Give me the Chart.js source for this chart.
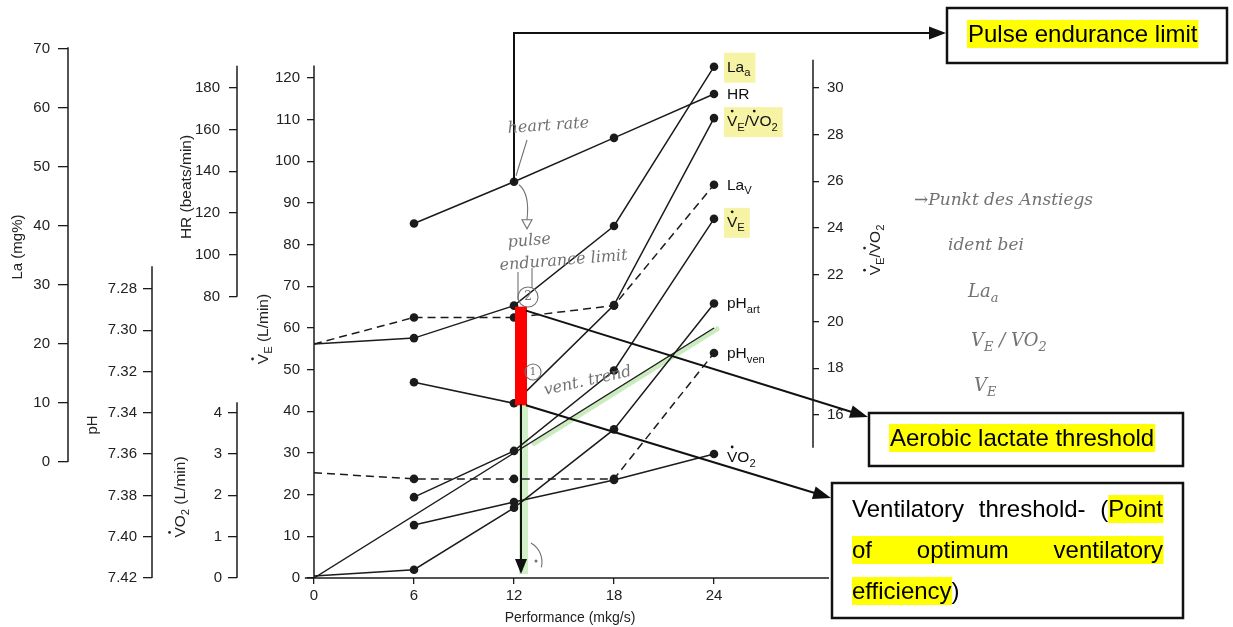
<!DOCTYPE html>
<html><head><meta charset="utf-8">
<script src="https://cdn.jsdelivr.net/npm/chart.js@4.4.1/dist/chart.umd.min.js"></script>
<style>html,body{margin:0;padding:0;background:#fff;}canvas{display:block;}</style>
</head><body>
<canvas id="c" width="1233" height="627"></canvas>
<script>
// ---------------- data ----------------
const X_VALUES = [0, 6, 12, 18, 24];            // performance (mkg/s)
const X_TICKS  = [0, 6, 12, 18, 24];
const HR      = [null, 115, 135, 156, 177];      // beats/min
const LA_A    = [20, 21, 26.5, 40, 67];          // mg%
const LA_V    = [20, 24.5, 24.5, 26.5, 47];      // mg%
const VE_VO2  = [null, 17.4, 16.5, 20.7, 28.7];
const VE      = [null, 19.4, 30.5, 49.8, 86.2];  // L/min
const PH_ART  = [7.419, 7.416, 7.386, 7.348, 7.287];
const PH_VEN  = [7.369, 7.372, 7.372, 7.372, 7.311];
const VO2     = [null, 1.28, 1.84, 2.37, 3.0];   // L/min
const TREND_X = [0, 24];                          // hand-drawn "vent. trend" line
const TREND_VE = [0, 60];
const LA_TICKS    = [0, 10, 20, 30, 40, 50, 60, 70];
const HR_TICKS    = [80, 100, 120, 140, 160, 180];
const PH_TICKS    = [7.28, 7.30, 7.32, 7.34, 7.36, 7.38, 7.40, 7.42];
const VO2_TICKS   = [0, 1, 2, 3, 4];
const VE_TICKS    = [0, 10, 20, 30, 40, 50, 60, 70, 80, 90, 100, 110, 120];
const VEVO2_TICKS = [16, 18, 20, 22, 24, 26, 28, 30];

// ---------------- layout / style ----------------
const W = 1233, H = 627;
const TOP = 28, BOTTOM = 578, LEFT = 314, RIGHT = 813;
const SPLIT = 360;   // boundary between the stacked HR (top) and VO2 (bottom) axes
const FONT = "'Liberation Sans', Arial, sans-serif";
const HAND = "'DejaVu Serif', serif";
const INK = '#1b1b1b';
const HANDC = '#727272';
Chart.defaults.font.family = FONT;

function cal(v1, p1, v2, p2, top, bottom) {
  const k = (v2 - v1) / (p2 - p1);
  return { lo: v1 + (bottom - p1) * k, hi: v1 + (top - p1) * k };
}

function mkY(o) {
  const area = o.area || [TOP, BOTTOM];
  const c = cal(...o.cal, area[0], area[1]);
  const rev = c.lo > c.hi;
  const s = {
    type: 'linear', position: o.pos, weight: o.weight,
    min: Math.min(c.lo, c.hi), max: Math.max(c.lo, c.hi), reverse: rev, bounds: 'data',
    afterFit: sc => { sc.width = o.width; },
    afterBuildTicks: sc => { sc.ticks = o.ticks.map(v => ({ value: v })); },
    grid: { display: true, drawOnChartArea: false, drawTicks: true, tickLength: o.tl, color: INK, lineWidth: 1.3 },
    border: { display: false },
    ticks: { autoSkip: false, padding: o.pad, color: '#222', font: { family: FONT, size: 15 }, callback: o.fmt || (v => String(v)) },
    title: { display: false }
  };
  if (o.stack) { s.stack = o.stack; s.stackWeight = o.stackWeight; }
  return s;
}

const pts = arr => X_VALUES.map((x, i) => ({ x, y: arr[i] }));
const lineDs = (label, arr, yAxisID, dashed) => ({
  label, data: pts(arr), yAxisID, xAxisID: 'x',
  borderColor: INK, backgroundColor: INK, pointBackgroundColor: INK, pointBorderWidth: 0,
  borderWidth: 1.5, borderDash: dashed ? [8, 5] : [], tension: 0, spanGaps: false,
  pointRadius: c => (c.raw && c.raw.x === 0 ? 0 : 4.3)
});

const datasets = [
  lineDs('HR', HR, 'yHR'),
  lineDs('La_a', LA_A, 'yLa'),
  lineDs('La_v', LA_V, 'yLa', true),
  lineDs('VE/VO2', VE_VO2, 'yVEVO2'),
  lineDs('VE', VE, 'yVE'),
  lineDs('pH_art', PH_ART, 'yPH'),
  lineDs('pH_ven', PH_VEN, 'yPH', true),
  lineDs('VO2', VO2, 'yVO2'),
  { label: 'vent. trend', data: TREND_X.map((x, i) => ({ x, y: TREND_VE[i] })), yAxisID: 'yVE', xAxisID: 'x',
    borderColor: INK, borderWidth: 1.4, pointRadius: 0, tension: 0 }
];

// ---------------- helpers ----------------
function P(chart, label, xv) {
  const i = chart.data.datasets.findIndex(d => d.label === label);
  const meta = chart.getDatasetMeta(i);
  const j = chart.data.datasets[i].data.findIndex(p => p.x === xv);
  return meta.data[j];
}
function segFont(fs, s, fam, style) { return (style || '') + ' ' + (s.sub ? fs * 0.72 : fs) + 'px ' + fam; }
function richW(ctx, segs, fs, fam, style) { let w = 0; for (const s of segs) { ctx.font = segFont(fs, s, fam, style); w += ctx.measureText(s.t).width; } return w; }
function drawRich(ctx, segs, x, y, fs, fam, opts) {
  opts = opts || {};
  const style = opts.style || '';
  let cx = x;
  if (opts.align === 'center') cx -= richW(ctx, segs, fs, fam, style) / 2;
  ctx.textAlign = 'left'; ctx.textBaseline = 'alphabetic';
  for (const s of segs) {
    ctx.font = segFont(fs, s, fam, style);
    const w = ctx.measureText(s.t).width;
    ctx.fillText(s.t, cx, y + (s.sub ? fs * 0.3 : 0));
    if (s.dot) { ctx.beginPath(); ctx.arc(cx + w / 2, y - fs * 0.97, fs * 0.09, 0, Math.PI * 2); ctx.fill(); }
    cx += w;
  }
}
function rotTitle(ctx, segs, cx, cy, fs) {
  ctx.save(); ctx.translate(cx, cy); ctx.rotate(-Math.PI / 2);
  ctx.fillStyle = '#222';
  drawRich(ctx, segs, 0, fs * 0.36, fs, FONT, { align: 'center' });
  ctx.restore();
}
function arrowLine(ctx, pts, lw, head) {
  const n = pts.length;
  const [x1, y1] = pts[n - 2], [x2, y2] = pts[n - 1];
  const a = Math.atan2(y2 - y1, x2 - x1);
  const len = head[0], wid = head[1];
  ctx.lineWidth = lw;
  ctx.beginPath(); ctx.moveTo(pts[0][0], pts[0][1]);
  for (let i = 1; i < n - 1; i++) ctx.lineTo(pts[i][0], pts[i][1]);
  ctx.lineTo(x2 - Math.cos(a) * len * 0.8, y2 - Math.sin(a) * len * 0.8);
  ctx.stroke();
  ctx.beginPath(); ctx.moveTo(x2, y2);
  ctx.lineTo(x2 - len * Math.cos(a) + wid / 2 * Math.sin(a), y2 - len * Math.sin(a) - wid / 2 * Math.cos(a));
  ctx.lineTo(x2 - len * Math.cos(a) - wid / 2 * Math.sin(a), y2 - len * Math.sin(a) + wid / 2 * Math.cos(a));
  ctx.closePath(); ctx.fill();
}

const SERIES_LABELS = [
  { ds: 'La_a', segs: [{ t: 'La' }, { t: 'a', sub: true }], hl: true },
  { ds: 'HR', segs: [{ t: 'HR' }] },
  { ds: 'VE/VO2', segs: [{ t: 'V', dot: true }, { t: 'E', sub: true }, { t: '/' }, { t: 'V', dot: true }, { t: 'O' }, { t: '2', sub: true }], hl: true, dy: 3 },
  { ds: 'La_v', segs: [{ t: 'La' }, { t: 'V', sub: true }] },
  { ds: 'VE', segs: [{ t: 'V', dot: true }, { t: 'E', sub: true }], hl: true, dy: 3 },
  { ds: 'pH_art', segs: [{ t: 'pH' }, { t: 'art', sub: true }] },
  { ds: 'pH_ven', segs: [{ t: 'pH' }, { t: 'ven', sub: true }] },
  { ds: 'VO2', segs: [{ t: 'V', dot: true }, { t: 'O' }, { t: '2', sub: true }], dy: 3 }
];
const LFS = 15.5;
function labelGeom(chart, L) {
  const p = P(chart, L.ds, 24);
  return { x: p.x + 13, y: p.y + 5 + (L.dy || 0), w: richW(chart.ctx, L.segs, LFS, FONT) };
}

const BOXF = '24px ' + FONT;
const YEL = '#ffff00';
function hlText(ctx, text, x, y) {
  ctx.font = BOXF;
  const w = ctx.measureText(text).width;
  ctx.fillStyle = YEL; ctx.fillRect(x - 1, y - 14, w + 2, 28);
  ctx.fillStyle = '#000'; ctx.textAlign = 'left'; ctx.textBaseline = 'middle';
  ctx.fillText(text, x, y + 1);
}
function justLine(ctx, words, left, right, y, justify) {
  ctx.font = BOXF; ctx.textAlign = 'left'; ctx.textBaseline = 'middle';
  const ws = words.map(w => w.reduce((a, s) => a + ctx.measureText(s.t).width, 0));
  const total = ws.reduce((a, b) => a + b, 0);
  const gap = (justify && words.length > 1) ? (right - left - total) / (words.length - 1) : ctx.measureText(' ').width;
  let x = left;
  words.forEach((w, i) => {
    let sx = x;
    w.forEach(s => {
      const sw = ctx.measureText(s.t).width;
      if (s.hl) { ctx.fillStyle = YEL; ctx.fillRect(sx, y - 14, sw + 0.5, 28); }
      sx += sw;
    });
    if (i < words.length - 1 && w[w.length - 1].hl && words[i + 1][0].hl) { ctx.fillStyle = YEL; ctx.fillRect(sx, y - 14, gap + 0.5, 28); }
    x += ws[i] + gap;
  });
  x = left;
  ctx.fillStyle = '#000';
  words.forEach((w, i) => {
    let sx = x;
    w.forEach(s => { ctx.fillText(s.t, sx, y + 1); sx += ctx.measureText(s.t).width; });
    x += ws[i] + gap;
  });
}

// axis line extents (value units)
const AXIS_LINES = [
  { id: 'yLa', from: 0, to: 70.3 },
  { id: 'yPH', from: 7.42, to: 7.269 },
  { id: 'yHR', from: 80, to: 190.5 },
  { id: 'yVO2', from: 0, to: 4.25 },
  { id: 'yVE', from: 0, to: 123 },
  { id: 'yVEVO2', from: 14.6, to: 31.2 }
];

const annot = {
  id: 'annot',
  beforeDraw(chart) { const c = chart.ctx; c.save(); c.fillStyle = '#fff'; c.fillRect(0, 0, W, H); c.restore(); },
  beforeDatasetsDraw(chart) {
    const ctx = chart.ctx;
    ctx.save();
    const v12 = P(chart, 'VE/VO2', 12);
    ctx.fillStyle = 'rgba(165,225,145,0.5)';
    ctx.fillRect(v12.x + 5, v12.y, 9, BOTTOM - 4 - v12.y);
    const tm = chart.getDatasetMeta(8).data;
    const a = tm[0], b = tm[1];
    const lerp = t => [a.x + (b.x - a.x) * t, a.y + (b.y - a.y) * t];
    const s1 = lerp(0.55), s2 = lerp(1.0);
    ctx.strokeStyle = 'rgba(150,215,125,0.5)'; ctx.lineWidth = 5; ctx.lineCap = 'round';
    ctx.beginPath(); ctx.moveTo(s1[0], s1[1] + 3); ctx.lineTo(s2[0] + 3, s2[1] + 1); ctx.stroke();
    ctx.fillStyle = '#f6f4a4';
    SERIES_LABELS.filter(L => L.hl).forEach(L => {
      const g = labelGeom(chart, L);
      ctx.fillRect(g.x - 3, g.y - 19, g.w + 8, 30);
    });
    ctx.restore();
  },
  afterDatasetsDraw(chart) {
    const ctx = chart.ctx;
    const xs = chart.scales.x;
    ctx.save();
    ctx.fillStyle = INK; ctx.strokeStyle = INK; ctx.lineJoin = 'miter';

    // axis lines
    ctx.lineWidth = 1.5;
    AXIS_LINES.forEach(A => {
      const s = chart.scales[A.id];
      const x = s.position === 'left' ? s.right : s.left;
      ctx.beginPath(); ctx.moveTo(x, s.getPixelForValue(A.from)); ctx.lineTo(x, s.getPixelForValue(A.to)); ctx.stroke();
    });
    ctx.beginPath(); ctx.moveTo(xs.getPixelForValue(-0.55), BOTTOM); ctx.lineTo(xs.getPixelForValue(30.9), BOTTOM); ctx.stroke();

    // axis titles
    rotTitle(ctx, [{ t: 'La (mg%)' }], 17, 247, 15);
    rotTitle(ctx, [{ t: 'pH' }], 92, 425, 15);
    rotTitle(ctx, [{ t: 'HR (beats/min)' }], 185, 187, 15.5);
    rotTitle(ctx, [{ t: 'V', dot: true }, { t: 'O' }, { t: '2', sub: true }, { t: ' (L/min)' }], 179, 497, 15.5);
    rotTitle(ctx, [{ t: 'V', dot: true }, { t: 'E', sub: true }, { t: ' (L/min)' }], 262, 329, 15.5);
    rotTitle(ctx, [{ t: 'V', dot: true }, { t: 'E', sub: true }, { t: '/' }, { t: 'V', dot: true }, { t: 'O' }, { t: '2', sub: true }], 874, 250, 15.5);
    ctx.fillStyle = '#222'; ctx.font = '14px ' + FONT; ctx.textAlign = 'center'; ctx.textBaseline = 'middle';
    ctx.fillText('Performance (mkg/s)', 570, 618);

    // series labels
    ctx.fillStyle = '#111';
    SERIES_LABELS.forEach(L => { const g = labelGeom(chart, L); drawRich(ctx, L.segs, g.x, g.y, LFS, FONT); });

    const hr12 = P(chart, 'HR', 12), la12 = P(chart, 'La_a', 12), v12 = P(chart, 'VE/VO2', 12);

    // red bar
    ctx.fillStyle = '#ff0000';
    ctx.fillRect(la12.x + 1, la12.y + 1, 12, v12.y - la12.y + 1);

    // arrows
    ctx.fillStyle = '#111'; ctx.strokeStyle = '#111';
    arrowLine(ctx, [[hr12.x, hr12.y], [hr12.x, 33], [946, 33]], 2, [17, 13]);
    arrowLine(ctx, [[la12.x + 12, la12.y + 5], [868, 417]], 2, [18, 13]);
    arrowLine(ctx, [[v12.x + 12, v12.y + 2], [831, 498]], 2, [18, 13]);
    arrowLine(ctx, [[v12.x + 7, v12.y + 1], [v12.x + 7, BOTTOM - 4]], 2, [15, 12]);

    // text boxes
    ctx.lineWidth = 2.5; ctx.strokeStyle = '#111';
    ctx.strokeRect(947, 8, 280, 55);
    hlText(ctx, 'Pulse endurance limit', 968, 34);
    ctx.strokeRect(869, 413, 314, 53);
    hlText(ctx, 'Aerobic lactate threshold', 890, 438);
    ctx.strokeRect(832, 483, 351, 135);
    justLine(ctx, [[{ t: 'Ventilatory' }], [{ t: 'threshold-' }], [{ t: '(' }, { t: 'Point', hl: true }]], 852, 1163, 509, true);
    justLine(ctx, [[{ t: 'of', hl: true }], [{ t: 'optimum', hl: true }], [{ t: 'ventilatory', hl: true }]], 852, 1163, 550, true);
    justLine(ctx, [[{ t: 'efficiency', hl: true }, { t: ')' }]], 852, 1163, 591, false);

    // hand-written notes
    ctx.fillStyle = HANDC; ctx.strokeStyle = HANDC; ctx.lineWidth = 1.1;
    const hand = (t, x, y, rot, fs) => { ctx.save(); ctx.translate(x, y); ctx.rotate(rot); ctx.font = 'italic ' + fs + 'px ' + HAND; ctx.textAlign = 'left'; ctx.textBaseline = 'alphabetic'; ctx.fillText(t, 0, 0); ctx.restore(); };
    hand('heart rate', 508, 133, -0.07, 16);
    ctx.beginPath(); ctx.moveTo(527, 140); ctx.lineTo(hr12.x + 2, hr12.y - 6); ctx.stroke();
    ctx.beginPath(); ctx.moveTo(hr12.x + 5, hr12.y + 3); ctx.quadraticCurveTo(hr12.x + 16, hr12.y + 12, hr12.x + 13, hr12.y + 38); ctx.stroke();
    ctx.beginPath(); ctx.moveTo(hr12.x + 8, hr12.y + 38); ctx.lineTo(hr12.x + 18, hr12.y + 38); ctx.lineTo(hr12.x + 13, hr12.y + 47); ctx.closePath(); ctx.stroke();
    hand('pulse', 508, 247, -0.08, 16);
    hand('endurance limit', 500, 270, -0.08, 16);
    ctx.beginPath(); ctx.moveTo(518, 272); ctx.lineTo(518, 300); ctx.stroke();
    ctx.beginPath(); ctx.moveTo(532, 268); ctx.lineTo(532, 288); ctx.stroke();
    ctx.beginPath(); ctx.arc(528, 297, 10, 0, Math.PI * 2); ctx.stroke();
    ctx.font = '12px ' + HAND; ctx.textAlign = 'center'; ctx.textBaseline = 'middle'; ctx.fillText('2', 528, 297);
    ctx.beginPath(); ctx.arc(533, 372, 8, 0, Math.PI * 2); ctx.stroke();
    ctx.font = '11px ' + HAND; ctx.fillText('1', 533, 372);
    hand('vent. trend', 545, 395, -0.22, 16);
    ctx.beginPath(); ctx.arc(520, 562, 22, -1.05, 0.25); ctx.stroke();
    ctx.beginPath(); ctx.arc(536, 561, 1.5, 0, Math.PI * 2); ctx.fill();

    hand('\u2192Punkt des Anstiegs', 914, 205, 0, 17);
    hand('ident bei', 948, 250, 0, 17);
    drawRich(ctx, [{ t: 'La' }, { t: 'a', sub: true }], 968, 297, 18, HAND, { style: 'italic' });
    drawRich(ctx, [{ t: 'V' }, { t: 'E', sub: true }, { t: ' / VO' }, { t: '2', sub: true }], 971, 346, 18, HAND, { style: 'italic' });
    drawRich(ctx, [{ t: 'V' }, { t: 'E', sub: true }], 974, 391, 18, HAND, { style: 'italic' });

    ctx.restore();
  }
};

const xCal = { min: 0, max: (RIGHT - LEFT) / ((714 - LEFT) / 24) };

new Chart(document.getElementById('c'), {
  type: 'line',
  data: { datasets },
  options: {
    responsive: false, animation: false, devicePixelRatio: 1,
    events: [],
    layout: { padding: { left: 0, right: W - RIGHT - 40, top: TOP, bottom: 0 } },
    plugins: { legend: { display: false }, tooltip: { enabled: false } },
    scales: {
      x: {
        type: 'linear', position: 'bottom', min: xCal.min, max: xCal.max, bounds: 'data',
        afterFit: s => { s.height = H - BOTTOM; },
        afterBuildTicks: s => { s.ticks = X_TICKS.map(v => ({ value: v })); },
        grid: { display: true, drawOnChartArea: false, drawTicks: true, tickLength: 6, color: INK, lineWidth: 1.3 },
        border: { display: false },
        ticks: { autoSkip: false, maxRotation: 0, padding: 3, color: '#222', font: { family: FONT, size: 15 } },
        title: { display: false }
      },
      yLa:   mkY({ pos: 'left', weight: 5, width: 68, cal: [0, 462, 70, 49], ticks: LA_TICKS, tl: 10, pad: 8 }),
      yPH:   mkY({ pos: 'left', weight: 4, width: 84, cal: [7.42, 578, 7.28, 289], ticks: PH_TICKS, tl: 9, pad: 6, fmt: v => v.toFixed(2) }),
      yHR:   mkY({ pos: 'left', weight: 3, width: 85, cal: [80, 296.7, 180, 87.7], area: [TOP, SPLIT], ticks: HR_TICKS, tl: 8, pad: 9, stack: 'hrvo2', stackWeight: SPLIT - TOP }),
      yVO2:  mkY({ pos: 'left', weight: 2, width: 85, cal: [0, 578, 4, 412.7], area: [SPLIT, BOTTOM], ticks: VO2_TICKS, tl: 9, pad: 6, stack: 'hrvo2', stackWeight: BOTTOM - SPLIT }),
      yVE:   mkY({ pos: 'left', weight: 1, width: 77, cal: [0, 578, 120, 78], ticks: VE_TICKS, tl: 7, pad: 7 }),
      yVEVO2: mkY({ pos: 'right', weight: 1, width: 40, cal: [16, 415, 30, 87.7], ticks: VEVO2_TICKS, tl: 6, pad: 8 })
    }
  },
  plugins: [annot]
});
</script>
</body></html>
